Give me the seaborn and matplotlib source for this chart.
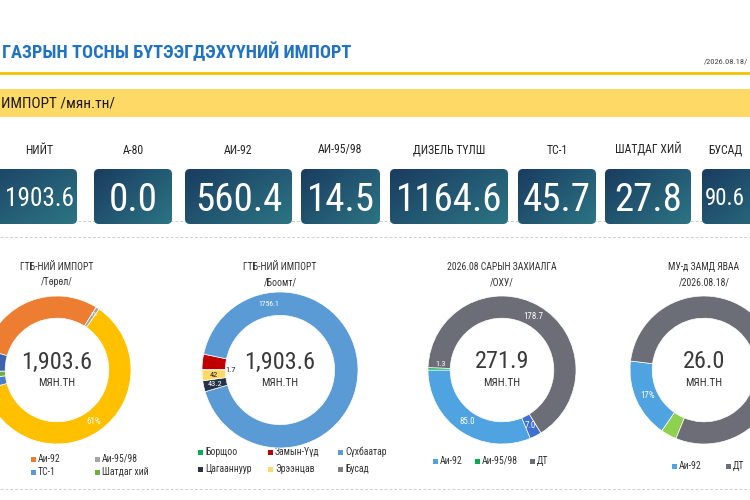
import numpy as np
import pandas as pd
import matplotlib
matplotlib.use('Agg')
import matplotlib.pyplot as plt
import seaborn as sns
from matplotlib import font_manager as fm
from matplotlib.patches import FancyBboxPatch, Rectangle
from matplotlib.colors import LinearSegmentedColormap

# ---------------- data ----------------
title_text = 'ГАЗРЫН ТОСНЫ БҮТЭЭГДЭХҮҮНИЙ ИМПОРТ'
date_text = '/2026.08.18/'
band_text = 'ИМПОРТ /мян.тн/'
unit_text = 'МЯН.ТН'

card_labels = ['НИЙТ', 'А-80', 'АИ-92', 'АИ-95/98', 'ДИЗЕЛЬ ТҮЛШ', 'ТС-1', 'ШАТДАГ ХИЙ', 'БУСАД']
card_values = [1903.6, 0.0, 560.4, 14.5, 1164.6, 45.7, 27.8, 90.6]

type_labels = ['А-80', 'Аи-92', 'Аи-95/98', 'ДТ', 'ТС-1', 'Шатдаг хий', 'Бусад']
type_values = [0.0, 560.4, 14.5, 1164.6, 45.7, 27.8, 90.6]

port_labels = ['Борщоо', 'Замын-Үүд', 'Сүхбаатар', 'Цагааннуур', 'Эрээнцав', 'Бусад']
port_values = [1.7, 60.6, 1756.1, 43.2, 42.0, 0.0]

order_labels = ['Аи-92', 'ТС-1', 'ДТ', 'Аи-95/98']
order_values = [85.0, 7.0, 178.7, 1.3]

transit_labels = ['Аи-92', 'Аи-95/98', 'ДТ']
transit_values = [4.5, 0.9, 20.6]

center_values = [1903.6, 1903.6, 271.9, 26.0]
donut_titles = [('ГТБ-НИЙ ИМПОРТ', '/Төрөл/'), ('ГТБ-НИЙ ИМПОРТ', '/Боомт/'),
                ('2026.08 САРЫН ЗАХИАЛГА', '/ОХУ/'), ('МУ-д ЗАМД ЯВАА', '/2026.08.18/')]

legend1 = ['Аи-92', 'Аи-95/98', 'ТС-1', 'Шатдаг хий']
legend2 = port_labels
legend3 = ['Аи-92', 'Аи-95/98', 'ДТ']
legend4 = ['Аи-92', 'ДТ']

# ---------------- colours ----------------
type_colors = {'А-80': '#4472c4', 'Аи-92': '#ed7d31', 'Аи-95/98': '#a5a5a5', 'ДТ': '#ffc000',
               'ТС-1': '#4a7fc8', 'Шатдаг хий': '#70ad47', 'Бусад': '#3b64ad'}
port_colors = {'Борщоо': '#00b050', 'Замын-Үүд': '#c00000', 'Сүхбаатар': '#5b9bd5',
               'Цагааннуур': '#263248', 'Эрээнцав': '#ffd966', 'Бусад': '#7f7f7f'}
order_colors = {'Аи-92': '#4fa3e0', 'ТС-1': '#3f6fcf', 'ДТ': '#6b6e76', 'Аи-95/98': '#00b050'}
transit_colors = {'Аи-92': '#4fa3e0', 'Аи-95/98': '#8fd14f', 'ДТ': '#6b6e76'}
legend_type_colors = dict(type_colors, **{'ТС-1': '#5b9bd5'})

# ---------------- style / fonts ----------------
sns.set_theme(style='white')
names = {f.name for f in fm.fontManager.ttflist}
COND = 'Roboto'
for cand in ['Liberation Sans Narrow', 'Roboto Condensed', 'Open Sans Condensed', 'Roboto']:
    if cand in names:
        COND = cand
        break
FAM = [COND, 'DejaVu Sans']
plt.rcParams['font.family'] = FAM

W, H = 750, 500
fig = plt.figure(figsize=(7.5, 5), dpi=100)
fig.patch.set_facecolor('white')
ax = fig.add_axes([0, 0, 1, 1])
ax.set_xlim(0, W)
ax.set_ylim(H, 0)
ax.axis('off')
REND = fig.canvas.get_renderer()


def txt(a, x, y, s, size, color='#333333', ha='center', va='center', weight='normal', z=5):
    return a.text(x, y, s, fontsize=size, color=color, ha=ha, va=va,
                  fontweight=weight, family=FAM, zorder=z)


def width_of(t):
    return t.get_window_extent(REND).width


def fit(t, wmax):
    w = width_of(t)
    if w > wmax:
        t.set_fontsize(t.get_fontsize() * wmax / w)
    return t


# ---------------- header ----------------
t_title = txt(ax, 2, 52, title_text, 17, color='#1f72c4', ha='left', weight='bold')
fit(t_title, 350)
txt(ax, 748, 62, date_text, 6, color='#444444', ha='right')
ax.axhline(73, color='#f3c300', lw=2.0, zorder=2)
ax.axhspan(89, 117, color='#ffd966', lw=0, zorder=1)
txt(ax, 1, 104, band_text, 11, color='#1a1a1a', ha='left')

# dashed guide lines
for yy in (221, 237, 489):
    ax.axhline(yy, color='#cfcfcf', lw=0.7, ls=(0, (3, 2)), zorder=1)

# ---------------- KPI cards ----------------
card_x = [(-40, 77), (94, 172), (185, 292), (301, 380), (390, 508), (518, 596), (605, 691), (702, 790)]
CARD_TOP, CARD_BOT = 169, 224
cmap = LinearSegmentedColormap.from_list('card', ['#1a3c60', '#2c7484'])
grad = np.add.outer(np.linspace(0, 0.55, 30), np.linspace(0, 0.75, 60))

# common value size: largest that fits every fully visible card
BASE = 30
sizes = []
for (x0, x1), v in zip(card_x[1:-1], card_values[1:-1]):
    p = ax.text(0, 0, f'{v:.1f}', fontsize=BASE, family=FAM)
    sizes.append(BASE * min(1.0, ((x1 - x0) - 10) / width_of(p)))
    p.remove()
val_size = min(sizes)

for i, ((x0, x1), lab, v) in enumerate(zip(card_x, card_labels, card_values)):
    patch = FancyBboxPatch((x0, CARD_TOP), x1 - x0, CARD_BOT - CARD_TOP,
                           boxstyle='round,pad=0,rounding_size=5', fc='none', ec='none', zorder=2)
    ax.add_patch(patch)
    im = ax.imshow(grad, cmap=cmap, vmin=0, vmax=1.3, extent=(x0, x1, CARD_BOT, CARD_TOP),
                   origin='upper', aspect='auto', interpolation='bicubic', zorder=2)
    im.set_clip_path(patch)
    # visible part of the card
    vx0, vx1 = max(x0, 2), min(x1, W - 2)
    cx = (vx0 + vx1) / 2
    cap = 0.72 * val_size * 100 / 72
    tv = ax.text(cx, 197 + cap / 2, f'{v:.1f}', fontsize=val_size, color='white', ha='center',
                 va='baseline', family=FAM, zorder=4)
    if width_of(tv) > (vx1 - vx0) - 6:
        fit(tv, (vx1 - vx0) - 6)
        cap2 = 0.72 * tv.get_fontsize() * 100 / 72
        tv.set_y(197 + cap2 / 2)
    tl = txt(ax, cx, 150, lab, 8.5, color='#262626')
    fit(tl, (vx1 - vx0) + 20)

ax.set_xlim(0, W)
ax.set_ylim(H, 0)
ax.set_aspect('auto')

# ---------------- donuts ----------------
CY = 370
donuts = [
    dict(cx=57, R=74, labels=type_labels, values=type_values, colors=type_colors, start=164, ccw=False,
         marks={'ДТ': ('pct', 'white', 6.5, 0.85, None), 'Аи-95/98': ('pct', 'white', 4.5, 0.9, None)}),
    dict(cx=280, R=78, labels=port_labels, values=port_values, colors=port_colors, start=180, ccw=False,
         marks={'Сүхбаатар': ('val', 'white', 5.5, 0.86, 100), 'Эрээнцав': ('val0', '#222222', 6, 0.85, None),
                'Цагааннуур': ('val', 'white', 6, 0.85, None), 'Борщоо': ('val', '#222222', 6, 0.63, None)}),
    dict(cx=502, R=74, labels=order_labels, values=order_values, colors=order_colors, start=180, ccw=True,
         marks={'Аи-92': ('val', 'white', 6.5, 0.84, None), 'ТС-1': ('val', 'white', 6.5, 0.84, None),
                'ДТ': ('val', 'white', 6.5, 0.84, None), 'Аи-95/98': ('val', 'white', 6, 0.84, 174)}),
    dict(cx=704, R=74, labels=transit_labels, values=transit_values, colors=transit_colors, start=173, ccw=True,
         marks={'Аи-92': ('pct', 'white', 6.5, 0.84, None)}),
]

for d, (t1, t2), cval in zip(donuts, donut_titles, center_values):
    R = d['R']
    dax = fig.add_axes([(d['cx'] - R) / W, 1 - (CY + R) / H, 2 * R / W, 2 * R / H])
    keep = [(l, v) for l, v in zip(d['labels'], d['values']) if v > 0]
    labs = [l for l, _ in keep]
    vals = [v for _, v in keep]
    wedges, _ = dax.pie(vals, colors=[d['colors'][l] for l in labs], startangle=d['start'],
                        counterclock=d['ccw'], radius=1,
                        wedgeprops=dict(width=0.3, edgecolor='white', linewidth=0.5))
    dax.set_xlim(-1, 1)
    dax.set_ylim(-1, 1)
    dax.set_aspect('equal')
    dax.axis('off')
    total = sum(vals)
    for w, l, v in zip(wedges, labs, vals):
        if l not in d['marks']:
            continue
        kind, col, size, r, ang = d['marks'][l]
        if ang is None:
            ang = (w.theta1 + w.theta2) / 2
        if kind == 'pct':
            s = f'{round(v / total * 100):.0f}%'
        elif kind == 'val0':
            s = f'{v:g}'
        else:
            s = f'{v:.1f}'
        a = np.deg2rad(ang)
        txt(dax, r * np.cos(a), r * np.sin(a), s, size, color=col)
    # centre text and titles
    txt(ax, d['cx'], 362, f'{cval:,.1f}', 17.5, color='#3a3a3a')
    txt(ax, d['cx'], 383, unit_text, 8, color='#333333')
    txt(ax, d['cx'], 267, t1, 7, color='#333333')
    txt(ax, d['cx'], 282, t2, 7, color='#333333')

# ---------------- legends ----------------
legend_specs = [
    (legend1, legend_type_colors, [(33, 459), (97, 459), (33, 472), (97, 472)]),
    (legend2, port_colors, [(200, 452), (270, 452), (340, 452), (200, 469), (270, 469), (340, 469)]),
    (legend3, order_colors, [(435, 461), (477, 461), (532, 461)]),
    (legend4, transit_colors, [(674, 466), (728, 466)]),
]
for names_l, cols, pos in legend_specs:
    for n, (mx, my) in zip(names_l, pos):
        ax.add_patch(Rectangle((mx - 2.5, my - 2.5), 5, 5, fc=cols[n], ec='none', zorder=5))
        txt(ax, mx + 5, my, n, 7, color='#333333', ha='left')

fig.savefig('out.png', dpi=100, facecolor='white')
